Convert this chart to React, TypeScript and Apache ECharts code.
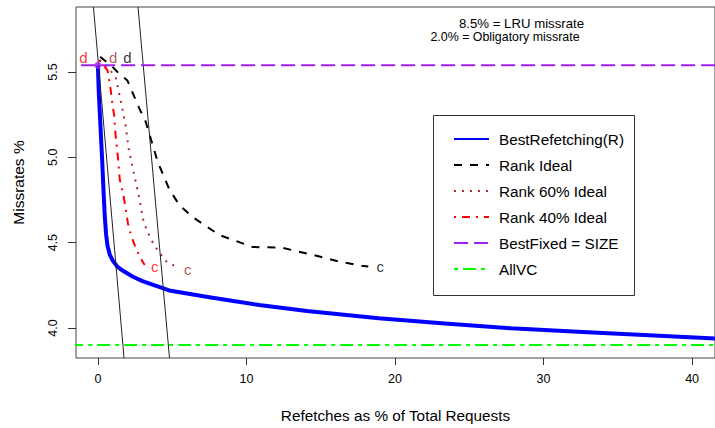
import React, { useEffect, useRef } from 'react';
import * as echarts from 'echarts';

// ---- data ----
const bestRefetching: [number, number][] = [
  [0, 5.54], [0.06, 5.38], [0.14, 5.24], [0.22, 5.1], [0.3, 4.96], [0.38, 4.8],
  [0.46, 4.66], [0.55, 4.55], [0.65, 4.48], [0.8, 4.43], [1.0, 4.395], [1.3, 4.36],
  [1.69, 4.335], [2.36, 4.3], [3.0, 4.275], [4.8, 4.22],
  [7.5, 4.18], [10.85, 4.135], [14.07, 4.1], [18.9, 4.057], [23.35, 4.027],
  [27.8, 3.998], [32.3, 3.978], [36.75, 3.959], [41.2, 3.94], [42, 3.935],
];
const rankIdeal: [number, number][] = [
  [0.15, 5.59], [0.98, 5.53], [1.32, 5.5], [1.99, 5.45], [2.77, 5.29], [3.21, 5.21],
  [3.66, 5.08], [4.04, 4.97], [4.82, 4.81], [5.49, 4.72], [6.38, 4.65], [8.17, 4.545],
  [10.4, 4.475], [12.4, 4.47], [14.4, 4.43], [16.2, 4.39], [17.75, 4.365], [18.2, 4.36],
];
const rank60: [number, number][] = [
  [0.1, 5.57], [0.65, 5.53], [1.2, 5.47], [1.54, 5.33], [1.88, 5.18], [2.05, 5.06],
  [2.26, 4.97], [2.59, 4.84], [2.81, 4.75], [3.03, 4.64], [3.3, 4.57], [3.7, 4.5],
  [4.15, 4.44], [4.6, 4.39], [5.0, 4.37], [5.38, 4.36],
];
const rank40: [number, number][] = [
  [0.1, 5.57], [0.65, 5.51], [0.87, 5.39], [0.98, 5.31], [1.09, 5.25], [1.2, 5.12],
  [1.36, 4.99], [1.47, 4.87], [1.69, 4.79], [1.81, 4.73], [2.03, 4.61], [2.26, 4.535],
  [2.48, 4.486], [2.81, 4.418], [3.15, 4.369],
];
const bestFixedValue = 5.54;
const allVCValue = 3.9;
const bestFixedPoint: [number, number][] = [[0, 5.54]];
const guideLine1: [number, number][] = [[-0.3, 5.881], [1.76, 3.824]];
const guideLine2: [number, number][] = [[2.7, 5.881], [4.82, 3.824]];
const labels40 = [{ value: [-0.98, 5.585], name: 'd' }, { value: [3.82, 4.359], name: 'c' }];
const labels60 = [{ value: [1.02, 5.585], name: 'd' }, { value: [6.05, 4.345], name: 'c' }];
const labelsIdeal = [{ value: [1.99, 5.585], name: 'd' }, { value: [19.0, 4.36], name: 'c' }];
const xTicks = [0, 10, 20, 30, 40];
const yTicks = [4.0, 4.5, 5.0, 5.5];
const noteLines = ['8.5% = LRU missrate', '2.0% = Obligatory missrate'];
const legendNames = ['BestRefetching(R)', 'Rank Ideal', 'Rank 60% Ideal', 'Rank 40% Ideal', 'BestFixed = SIZE', 'AllVC'];

const X_MIN = -1.474;
const X_MAX = 41.54;
const Y_MIN = 3.8242;
const Y_MAX = 5.8809;

const SANS = "'Liberation Sans', Arial, sans-serif";

const BLUE = '#0000FF';
const BROWN = '#A52A2A';
const RED = '#FF0000';
const PURPLE = '#A020F0';
const GREEN = '#00FF00';

function labelSeries(data: any[], color: string) {
  return {
    type: 'scatter',
    data,
    symbolSize: 0,
    silent: true,
    label: {
      show: true,
      position: 'inside',
      formatter: (p: any) => p.name,
      color,
      fontFamily: SANS,
      fontSize: 15,
    },
    z: 6,
  };
}

export default function App() {
  const ref = useRef<HTMLDivElement>(null);
  useEffect(() => {
    if (!ref.current) return;
    const chart = echarts.init(ref.current, null, { renderer: 'svg' });
    chart.setOption({
      animation: false,
      backgroundColor: '#fff',
      grid: {
        left: 76, top: 7, width: 642, height: 351,
        show: true, borderColor: '#444', borderWidth: 1, backgroundColor: 'transparent',
      },
      xAxis: {
        type: 'value', min: X_MIN, max: X_MAX,
        name: 'Refetches as % of Total Requests', nameLocation: 'middle', nameGap: 50,
        nameTextStyle: { fontFamily: SANS, fontSize: 15.3, color: '#000' },
        axisLine: { show: false, onZero: false },
        splitLine: { show: false },
        axisTick: { show: true, length: 7, customValues: xTicks, lineStyle: { color: '#333' } },
        axisLabel: { customValues: xTicks, margin: 14, fontFamily: SANS, fontSize: 12.5, color: '#000' },
      },
      yAxis: {
        type: 'value', min: Y_MIN, max: Y_MAX,
        name: 'Missrates %', nameLocation: 'middle', nameGap: 50, nameRotate: 90,
        nameTextStyle: { fontFamily: SANS, fontSize: 15.5, color: '#000' },
        axisLine: { show: false, onZero: false },
        splitLine: { show: false },
        axisTick: { show: true, length: 8, customValues: yTicks, lineStyle: { color: '#333' } },
        axisLabel: {
          customValues: yTicks, rotate: 90, margin: 17, fontFamily: SANS, fontSize: 12.5, color: '#000',
          formatter: (v: number) => v.toFixed(1),
        },
      },
      legend: {
        data: legendNames,
        orient: 'vertical',
        left: 448, top: 125,
        itemWidth: 35, itemHeight: 14, itemGap: 8,
        itemStyle: { opacity: 0 },
        textStyle: { fontFamily: SANS, fontSize: 15.3, color: '#000', lineHeight: 18, padding: [0, 0, 0, 5] },
        selectedMode: false,
      },
      graphic: [
        {
          type: 'rect', shape: { x: 433.5, y: 115.5, width: 201, height: 180 },
          style: { fill: 'transparent', stroke: '#333', lineWidth: 1 }, z: 1,
        },
        {
          type: 'text', x: 521.5, y: 23,
          style: { text: noteLines[0], fontFamily: SANS, fontSize: 13.2, fill: '#000', textAlign: 'center', textVerticalAlign: 'middle' },
        },
        {
          type: 'text', x: 505, y: 37,
          style: { text: noteLines[1], fontFamily: SANS, fontSize: 12.4, fill: '#000', textAlign: 'center', textVerticalAlign: 'middle' },
        },
      ],
      series: [
        {
          name: 'AllVC', type: 'line', symbol: 'none', silent: true,
          data: [[X_MIN - 1, allVCValue], [X_MAX + 1, allVCValue]],
          lineStyle: { color: GREEN, width: 2, type: [4, 5, 13, 5] }, itemStyle: { color: GREEN }, z: 2,
        },
        {
          name: 'BestRefetching(R)', type: 'line', symbol: 'none', silent: true, data: bestRefetching,
          lineStyle: { color: BLUE, width: 4, join: 'round' }, itemStyle: { color: BLUE }, z: 2,
        },
        {
          name: 'Rank Ideal', type: 'line', symbol: 'none', silent: true, data: rankIdeal,
          lineStyle: { color: '#000', width: 2, type: [8, 8] }, itemStyle: { color: '#000' }, z: 3,
        },
        {
          name: 'Rank 60% Ideal', type: 'line', symbol: 'none', silent: true, data: rank60,
          lineStyle: { color: BROWN, width: 2, type: [2, 6] }, itemStyle: { color: BROWN }, z: 3,
        },
        {
          name: 'Rank 40% Ideal', type: 'line', symbol: 'none', silent: true, data: rank40,
          lineStyle: { color: RED, width: 2, type: [2, 6, 8, 6] }, itemStyle: { color: RED }, z: 3,
        },
        {
          name: 'guide1', type: 'line', symbol: 'none', silent: true, data: guideLine1,
          lineStyle: { color: '#222', width: 1 }, z: 4,
        },
        {
          name: 'guide2', type: 'line', symbol: 'none', silent: true, data: guideLine2,
          lineStyle: { color: '#222', width: 1 }, z: 4,
        },
        {
          name: 'BestFixed = SIZE', type: 'line', symbol: 'none', silent: true,
          data: [[X_MIN - 1, bestFixedValue], [X_MAX + 1, bestFixedValue]],
          lineStyle: { color: PURPLE, width: 2, type: [14, 6] }, itemStyle: { color: PURPLE }, z: 5,
        },
        {
          name: 'bestFixedPoint', type: 'scatter', data: bestFixedPoint, symbolSize: 7, silent: true,
          itemStyle: { color: PURPLE }, z: 6,
        },
        labelSeries(labels40, RED),
        labelSeries(labels60, BROWN),
        labelSeries(labelsIdeal, '#000'),
      ],
    });
    return () => chart.dispose();
  }, []);
  return <div ref={ref} style={{ position: 'fixed', left: 0, top: 0, width: 715, height: 428 }} />;
}
